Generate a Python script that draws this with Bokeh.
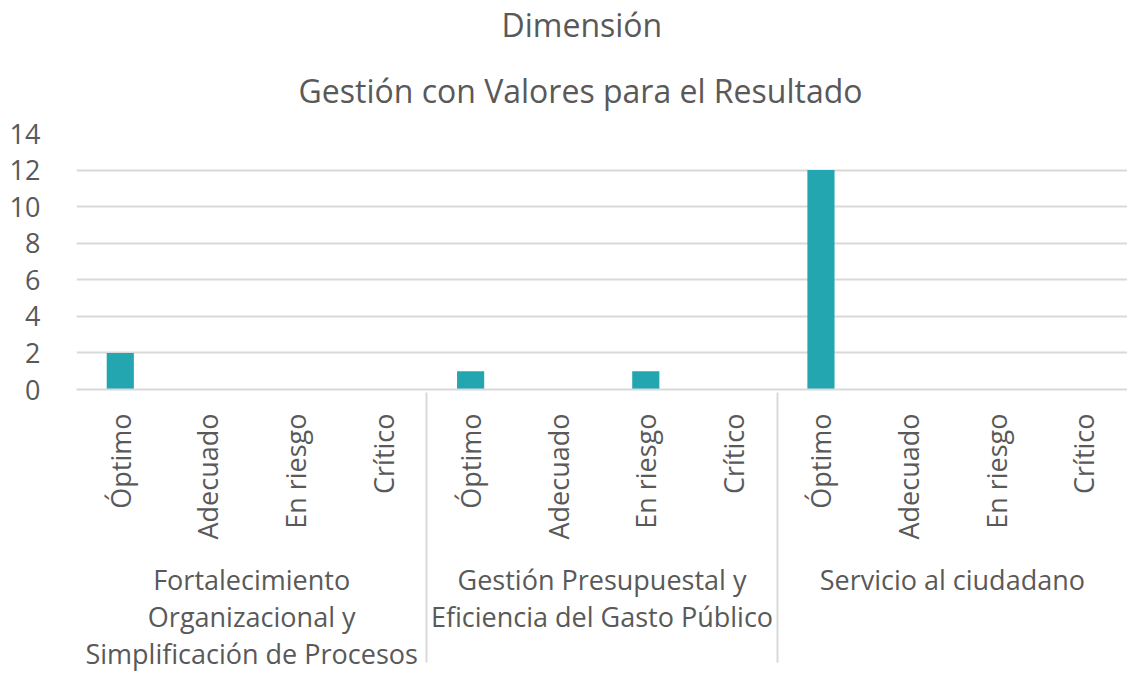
import math
from bokeh.plotting import figure
from bokeh.models import FactorRange, Range1d, FixedTicker, ColumnDataSource, Title
from bokeh.embed import file_html
from bokeh.resources import INLINE

groups = ["Fortalecimiento\nOrganizacional y\nSimplificación de Procesos",
          "Gestión Presupuestal y\nEficiencia del Gasto Público",
          "Servicio al ciudadano"]
levels = ["Óptimo", "Adecuado", "En riesgo", "Crítico"]
vals_fortalecimiento = [2, 0, 0, 0]
vals_presupuestal = [1, 0, 1, 0]
vals_servicio = [12, 0, 0, 0]
y_ticks = [0, 2, 4, 6, 8, 10, 12, 14]
title_line1 = "Dimensión"
title_line2 = "Gestión con Valores para el Resultado"

all_vals = [vals_fortalecimiento, vals_presupuestal, vals_servicio]
factors = [(g, l) for g in groups for l in levels]
counts = [v for vals in all_vals for v in vals]
src = ColumnDataSource(dict(x=factors, top=counts))

FONT = "Open Sans"
TXT = "#595959"
GRID = "#d9d9d9"

p = figure(width=1127, height=674, output_backend="svg", toolbar_location=None,
           x_range=FactorRange(*factors, range_padding=0, group_padding=0, factor_padding=0),
           y_range=Range1d(0, 14),
           min_border_left=76, min_border_right=0, min_border_top=0, min_border_bottom=0)
p.title = None

p.vbar(x="x", top="top", width=0.31, source=src, color="#23A6B0", line_color=None)

t2 = Title(text=title_line2, align="left", text_font=FONT, text_font_style="normal",
           text_font_size="32px", text_color=TXT, offset=222, standoff=43,
           text_line_height=1.0)
t1 = Title(text=title_line1, align="left", text_font=FONT, text_font_style="normal",
           text_font_size="32px", text_color=TXT, offset=425, standoff=0,
           text_line_height=1.0)
p.add_layout(t2, "above")
p.add_layout(t1, "above")

p.outline_line_color = None
p.background_fill_color = "white"
p.border_fill_color = "white"

p.yaxis.ticker = FixedTicker(ticks=y_ticks)
p.yaxis.axis_line_color = None
p.yaxis.major_tick_line_color = None
p.yaxis.minor_tick_line_color = None
p.yaxis.major_label_text_font = FONT
p.yaxis.major_label_text_font_size = "27px"
p.yaxis.major_label_text_color = TXT
p.yaxis.major_label_standoff = 30

p.ygrid.grid_line_color = GRID
p.ygrid.grid_line_width = 2
p.xgrid.grid_line_color = None

xa = p.xaxis[0]
xa.axis_line_color = GRID
xa.axis_line_width = 2
xa.major_tick_line_color = None
xa.minor_tick_line_color = None
xa.major_label_orientation = math.pi / 2
xa.major_label_text_font = FONT
xa.major_label_text_font_size = "27px"
xa.major_label_text_color = TXT
xa.major_label_standoff = 18
xa.group_text_font = FONT
xa.group_text_font_style = "normal"
xa.group_text_font_size = "27px"
xa.group_text_color = TXT
xa.group_text_line_height = 1.0
xa.group_label_orientation = "horizontal"
xa.separator_line_color = GRID
xa.separator_line_width = 2

open("out.html", "w").write(file_html(p, INLINE))
